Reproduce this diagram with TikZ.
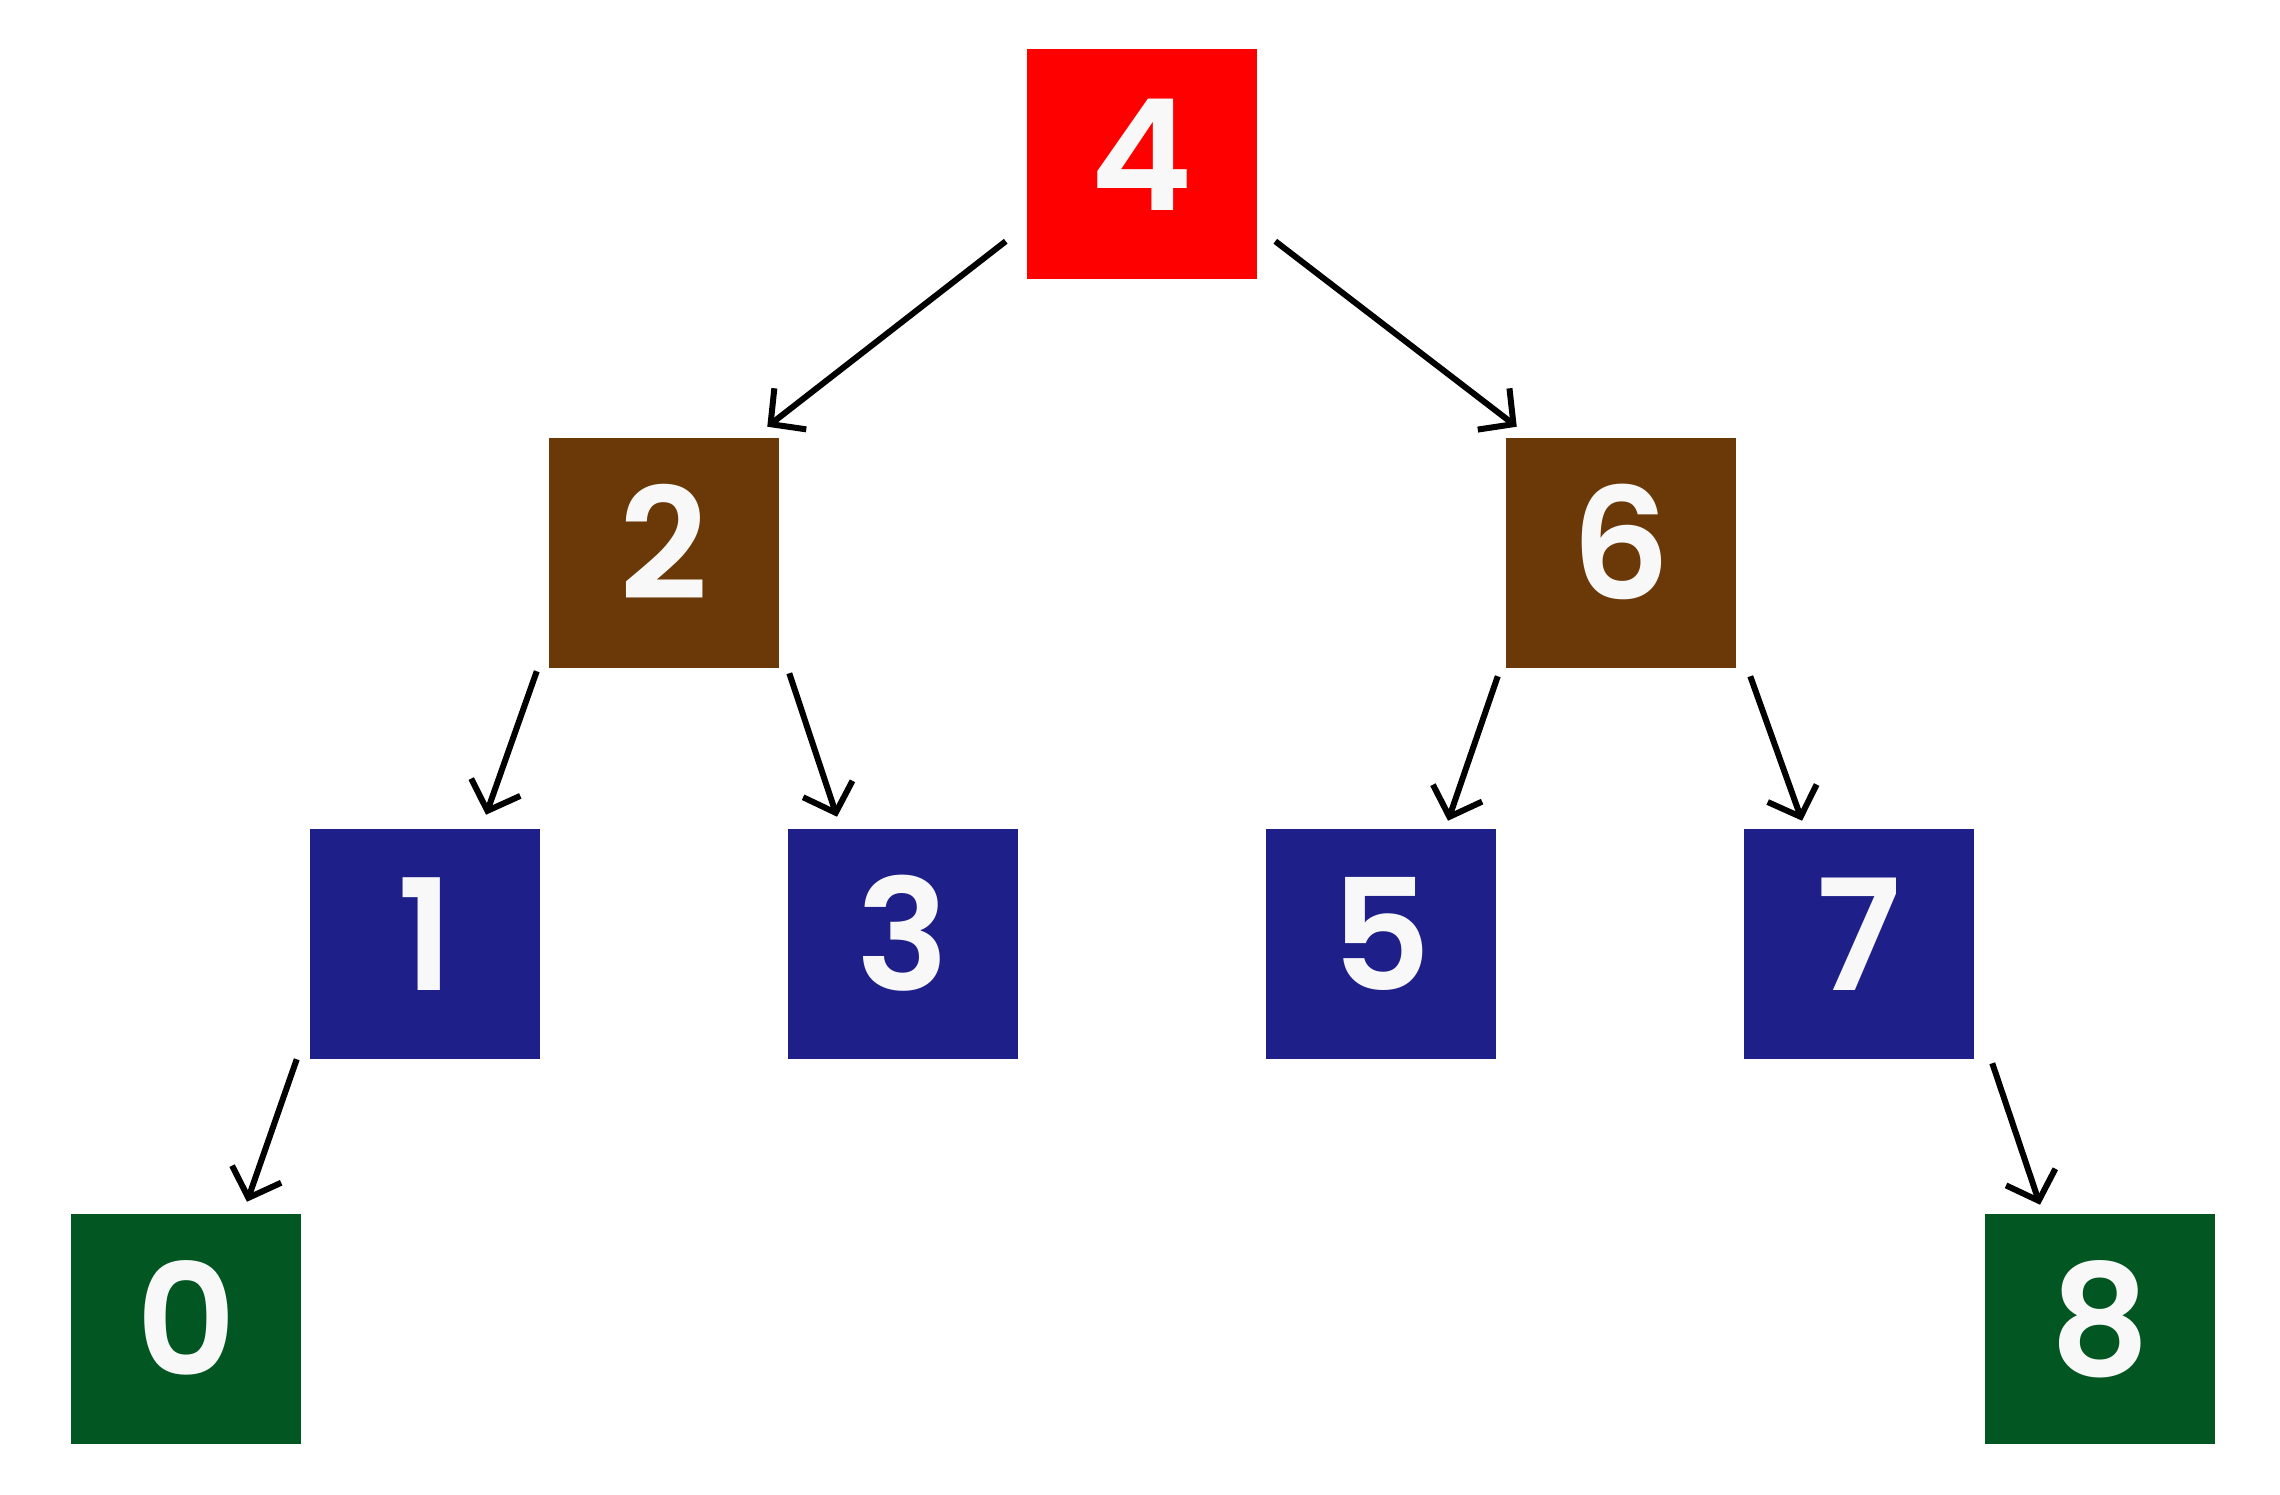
\documentclass[tikz,border=0pt]{standalone}
\usepackage{fontspec}
\setmainfont{Poppins}[UprightFont=* SemiBold, BoldFont=* SemiBold]
\usetikzlibrary{arrows.meta}
\definecolor{cred}{RGB}{255,0,0}
\definecolor{cbrown}{RGB}{107,57,7}
\definecolor{cblue}{RGB}{30,31,136}
\definecolor{cgreen}{RGB}{2,86,33}
\definecolor{ctext}{RGB}{248,248,248}
\tikzset{
  box/.style={rectangle, minimum width=2.29cm, minimum height=2.29cm, inner sep=0pt,
    text=ctext, font=\fontsize{44}{44}\selectfont, text height=1.09cm, text depth=0.16cm},
  arr/.style={-{Straight Barb[length=0.25cm,width=0.52cm,line width=0.06cm]}, line width=0.06cm, black}
}
\begin{document}
\begin{tikzpicture}[x=0.01cm,y=-0.01cm]
\useasboundingbox (0,0) rectangle (2280,1495);
\node[box, fill=cred]   (n4) at (1142,164) {4};
\node[box, fill=cbrown] (n2) at (664,553) {2};
\node[box, fill=cbrown] (n6) at (1621,553) {6};
\node[box, fill=cblue]  (n1) at (425,944) {1};
\node[box, fill=cblue]  (n3) at (903,944) {3};
\node[box, fill=cblue]  (n5) at (1381,944) {5};
\node[box, fill=cblue]  (n7) at (1859,944) {7};
\node[box, fill=cgreen] (n0) at (186,1329) {0};
\node[box, fill=cgreen] (n8) at (2100,1329) {8};

\draw[arr] ([shift={(-21,-38)}]n4.south west) -- ([shift={(-12,-11)}]n2.north east);
\draw[arr] ([shift={(18,-38)}]n4.south east) -- ([shift={(11,-11)}]n6.north west);
\draw[arr] ([shift={(-12,3)}]n2.south west) -- ([shift={(61,-14)}]n1.north);
\draw[arr] ([shift={(10,5)}]n2.south east) -- ([shift={(-66,-12)}]n3.north);
\draw[arr] ([shift={(-8,8)}]n6.south west) -- ([shift={(67,-8)}]n5.north);
\draw[arr] ([shift={(14,8)}]n6.south east) -- ([shift={(-57,-8)}]n7.north);
\draw[arr] ([shift={(-13,0)}]n1.south west) -- ([shift={(61,-12)}]n0.north);
\draw[arr] ([shift={(18,4)}]n7.south east) -- ([shift={(-60,-9)}]n8.north);
\end{tikzpicture}
\end{document}
